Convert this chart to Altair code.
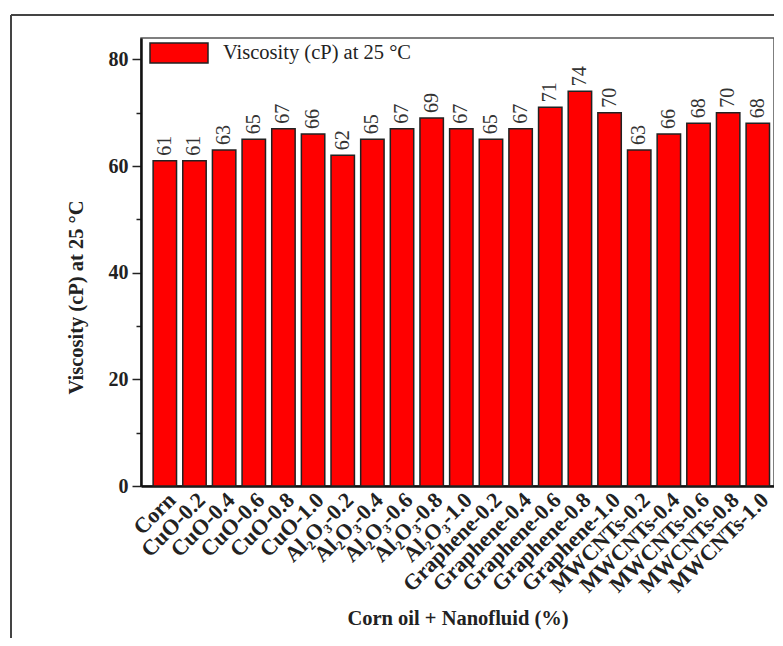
import altair as alt
import pandas as pd

categories = [
    "Corn", "CuO-0.2", "CuO-0.4", "CuO-0.6", "CuO-0.8", "CuO-1.0",
    "Al₂O₃-0.2", "Al₂O₃-0.4", "Al₂O₃-0.6", "Al₂O₃-0.8", "Al₂O₃-1.0",
    "Graphene-0.2", "Graphene-0.4", "Graphene-0.6", "Graphene-0.8", "Graphene-1.0",
    "MWCNTs-0.2", "MWCNTs-0.4", "MWCNTs-0.6", "MWCNTs-0.8", "MWCNTs-1.0",
]
viscosity = [61, 61, 63, 65, 67, 66, 62, 65, 67, 69, 67, 65, 67, 71, 74, 70, 63, 66, 68, 70, 68]
series_name = "Viscosity (cP) at 25 °C"
y_ticks = [0, 10, 20, 30, 40, 50, 60, 70, 80]

df = pd.DataFrame({"category": categories, "value": viscosity, "series": series_name})

SERIF = "Liberation Serif"

xenc = alt.X(
    "category:N",
    sort=categories,
    scale=alt.Scale(paddingInner=0.21, paddingOuter=0.28, align=0.73),
    axis=alt.Axis(
        title="Corn oil + Nanofluid (%)",
        labelAngle=-45, labelAlign="right", labelBaseline="top",
        labelFont=SERIF, labelFontWeight="bold", labelFontSize=22, labelColor="#222",
        labelPadding=3, ticks=False, labelLimit=0,
        titleFont=SERIF, titleFontWeight="bold", titleFontSize=20.5, titleColor="#222",
        titlePadding=12,
        domainColor="#111", domainWidth=2.5,
    ),
)
yenc = alt.Y(
    "value:Q",
    scale=alt.Scale(domain=[0, 84], nice=False),
    axis=alt.Axis(
        title=series_name, values=y_ticks,
        labelExpr="datum.value % 20 === 0 ? datum.label : ''",
        tickSize={"condition": {"test": "datum.value % 20 === 0", "value": 9}, "value": 5},
        tickColor="#222", tickWidth=1.5,
        labelFont=SERIF, labelFontWeight="bold", labelFontSize=20, labelColor="#222",
        labelPadding=4, grid=False,
        titleFont=SERIF, titleFontWeight="bold", titleFontSize=20.5, titleColor="#222",
        titlePadding=22, titleY=259,
        domainColor="#111", domainWidth=2.5,
    ),
)

base = alt.Chart(df)

bars = base.mark_bar(stroke="#222", strokeWidth=1.5).encode(
    x=xenc,
    y=yenc,
    color=alt.Color(
        "series:N",
        scale=alt.Scale(range=["#ff0000"]),
        legend=alt.Legend(
            title=None, orient="none", legendX=8, legendY=-15,
            symbolType="M-1,-0.345H1V0.345H-1Z", symbolSize=3364,
            symbolStrokeColor="#222", symbolStrokeWidth=1.5, symbolOpacity=1,
            labelFont=SERIF, labelFontSize=20.5, labelColor="#222", labelOffset=14,
            labelLimit=0, padding=0,
        ),
    ),
)

labels = base.mark_text(
    angle=270, align="left", baseline="middle", dx=5,
    font=SERIF, fontSize=20, color="#333",
).encode(
    x=alt.X("category:N", sort=categories),
    y="value:Q",
    text="value:Q",
)

frame_df = pd.DataFrame({"k": [0]})
frame_left = alt.Chart(frame_df).mark_rule(color="#444", strokeWidth=2).encode(
    x=alt.value(-130), y=alt.value(-23), y2=alt.value(800)
)
frame_top = alt.Chart(frame_df).mark_rule(color="#444", strokeWidth=2).encode(
    x=alt.value(-130), x2=alt.value(900), y=alt.value(-23)
)

chart = alt.layer(bars, labels, frame_left, frame_top).properties(
    width=633, height=448,
    autosize=alt.AutoSizeParams(type="none"),
    padding={"left": 133, "top": 30, "right": 0, "bottom": 152},
    background="white",
).configure_view(stroke="#555", strokeWidth=1.5)

chart.save("out.html", embed_options={"renderer": "svg", "actions": False})
